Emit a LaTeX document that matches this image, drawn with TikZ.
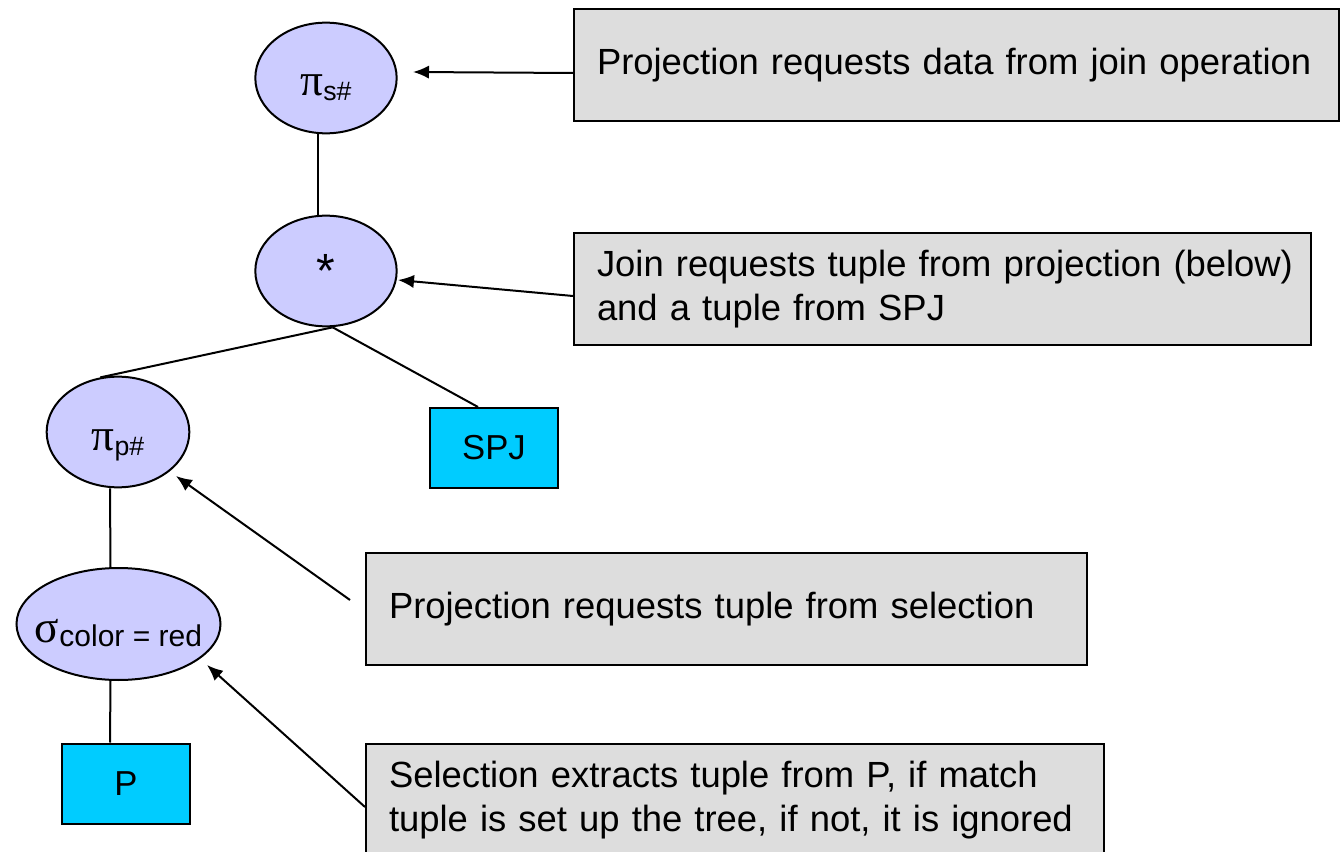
\documentclass[tikz,border=0pt]{standalone}
\usepackage{fontspec}
\setmainfont{Liberation Sans}
\newfontfamily\greekf{Liberation Serif}
\usetikzlibrary{shapes.geometric,arrows.meta}
\definecolor{opfill}{HTML}{CCCCFF}
\definecolor{relfill}{HTML}{00CCFF}
\definecolor{notefill}{HTML}{DDDDDD}
\newcommand{\gsym}[1]{{\greekf\fontsize{34}{36}\selectfont #1}}
\newcommand{\subtxt}[2]{\raisebox{-0.34em}{\fontsize{#1}{#1}\selectfont #2}}
\newcommand{\lowered}[2]{\raisebox{-#1}[0pt][0pt]{#2}}
\begin{document}
\begin{tikzpicture}[x=0.75pt,y=-0.75pt,
  op/.style={ellipse, draw=black, line width=1.5pt, fill=opfill, inner sep=0pt,
    minimum width=106pt, minimum height=83pt},
  rel/.style={rectangle, draw=black, line width=1.5pt, fill=relfill, inner sep=0pt,
    minimum width=96pt, minimum height=60pt, font=\fontsize{26}{30}\selectfont},
  note/.style={rectangle, draw=black, line width=1.5pt, fill=notefill, anchor=north west,
    align=left, inner xsep=17.25pt, inner ysep=0pt, minimum height=84pt,
    font=\fontsize{27.3}{32.5}\selectfont},
  edge/.style={line width=1.5pt},
  arr/.style={line width=1.5pt, -{Latex[length=12pt,width=10pt]}}]
\useasboundingbox (0,0) rectangle (1340,852);

% operator nodes
\node[op] (ps) at (326,78) {\lowered{13.5pt}{\gsym{π}\subtxt{20}{s\#}}};
\node[op] (jn) at (326,271) {\lowered{12.5pt}{\fontsize{36}{38}\selectfont *}};
\node[op, minimum width=107pt] (pp) at (118,432) {\lowered{14pt}{\gsym{π}\subtxt{20}{p\#}}};
\node[op, minimum width=153pt, minimum height=84pt, inner xsep=-30pt] (sg) at (118.5,624) {\lowered{13.5pt}{\gsym{σ}\subtxt{22.5}{color = red}}};

% relations
\node[rel] (spj) at (494,448) {SPJ};
\node[rel] (p) at (126,783.5) {P};

% notes
\node[note, text width=539.25pt] (n1) at (573,8) {\mbox{Projection requests data from join operation}};
\node[note, text width=518.25pt] (n2) at (573,232) {\mbox{Join requests tuple from projection (below)}\\\mbox{and a tuple from SPJ}};
\node[note, text width=506.25pt] (n3) at (365,552) {\mbox{Projection requests tuple from selection}};
\node[note, text width=519pt] (n4) at (365,743) {\mbox{Selection extracts tuple from P, if match}\\\mbox{tuple is set up the tree, if not, it is ignored}};

% tree edges
\draw[edge] ([xshift=-6pt]ps.south) -- ([xshift=-6pt]jn.north);
\draw[edge] ([xshift=5pt]jn.south) -- (pp.108);
\draw[edge] ([xshift=5pt]jn.south) -- ([xshift=-12pt]spj.north);
\draw[edge] ([xshift=-6pt]pp.south) -- ([xshift=-6pt]sg.north);
\draw[edge] ([xshift=-6pt]sg.south) -- ([xshift=-12pt]p.north);

% arrows
\coordinate (t1) at (413,72);
\coordinate (t2) at (398,280);
\coordinate (t3) at (176,476);
\coordinate (s3) at (350,600);
\coordinate (t4) at (207,665);
\draw[arr] ([yshift=-6pt]n1.west) -- (t1);
\draw[arr] ([yshift=-5.25pt]n2.west) -- (t2);
\draw[arr] (s3) -- (t3);
\draw[arr] ([yshift=-5.25pt]n4.west) -- (t4);
\end{tikzpicture}
\end{document}
